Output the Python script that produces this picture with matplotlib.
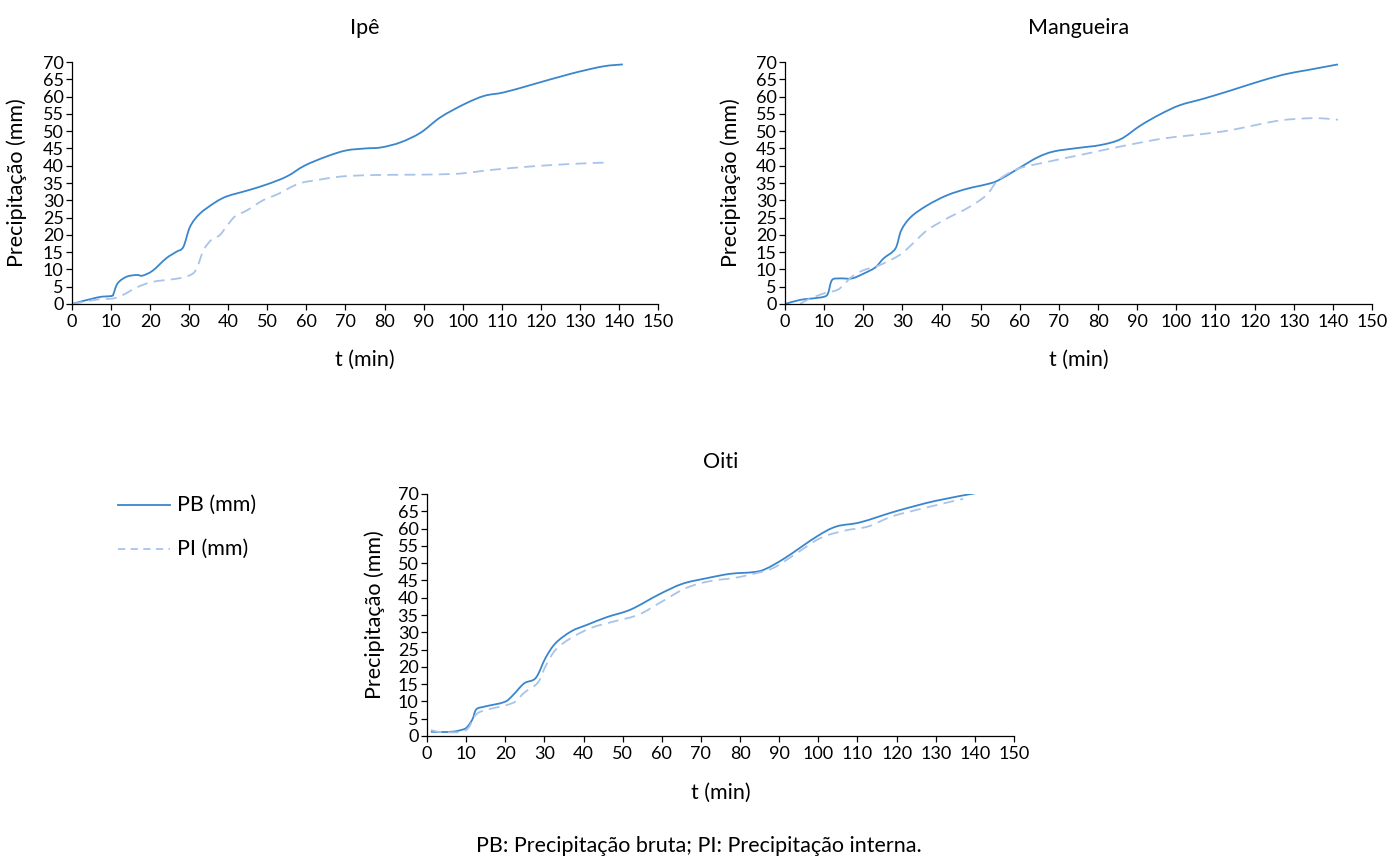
import matplotlib
matplotlib.use("Agg")
import matplotlib.pyplot as plt
from matplotlib.path import Path
from matplotlib.patches import PathPatch

plt.rcParams['font.family'] = ['Lato', 'DejaVu Sans']

# ---- data ----
ipe_pb_t = [0, 6.5, 10, 10.5, 11.7, 14, 16.6, 18, 20.6, 24.1, 26.7, 28.5, 30.2, 32.7, 36.8, 39.8, 44.8, 49.9, 55, 59.5, 65, 70.1, 75.2, 79.2, 84.2, 89.3, 94.3, 100.4, 105.5, 110.5, 117.6, 127.7, 135.8, 141]
ipe_pb = [0, 1.9, 2.3, 2.6, 6.0, 7.9, 8.4, 8.2, 9.6, 13.2, 15.1, 16.5, 22.3, 26.1, 29.5, 31.2, 32.8, 34.6, 36.9, 40.0, 42.6, 44.4, 45.0, 45.3, 46.8, 49.6, 54.0, 57.8, 60.2, 61.2, 63.4, 66.6, 68.7, 69.3]
ipe_pi_t = [0, 6.5, 10.5, 13, 16.6, 20.6, 26.7, 29.7, 31.7, 33.7, 35.8, 37.8, 39.8, 41.8, 44.8, 48.9, 52.9, 58, 63, 69.1, 77.2, 87.3, 97.4, 102.4, 107.5, 117.6, 127.7, 136.3]
ipe_pi = [0, 1.3, 1.6, 2.6, 4.8, 6.4, 7.3, 8.1, 9.8, 15.6, 18.7, 19.9, 22.8, 25.4, 27.1, 30.0, 31.9, 34.8, 35.9, 36.9, 37.3, 37.4, 37.6, 38.1, 38.8, 39.8, 40.5, 40.9]

man_pb_t = [0, 3.9, 7, 10, 11, 12, 14, 17.1, 20.1, 23.1, 25.2, 28.2, 29.7, 32.2, 36.3, 41.3, 46.4, 51.4, 54.4, 59.5, 64.5, 68.6, 74.6, 80.7, 85.8, 90.8, 95.9, 100.9, 107, 114, 120.1, 127.2, 133.2, 141.3]
man_pb = [0, 1.2, 1.6, 2.1, 3.1, 6.9, 7.4, 7.4, 8.8, 10.6, 13.2, 16.0, 21.3, 25.2, 28.5, 31.4, 33.3, 34.6, 35.7, 39.1, 42.4, 44.1, 45.1, 46.0, 47.7, 51.6, 54.9, 57.5, 59.4, 61.8, 64.0, 66.3, 67.6, 69.3]
man_pi_t = [3.9, 5.9, 10, 12, 14, 17.1, 20.1, 24.1, 29.2, 32.2, 36.3, 41.3, 46.4, 51.4, 54.4, 59.5, 66.6, 76.7, 86.8, 96.9, 107, 114, 122.1, 127.2, 133.2, 137.3, 141.3]
man_pi = [0, 1.3, 3.1, 3.6, 4.5, 7.9, 9.8, 11.2, 14.1, 17.0, 21.3, 24.7, 27.6, 31.4, 35.7, 39.1, 41.0, 43.4, 45.8, 47.9, 49.2, 50.3, 52.2, 53.2, 53.7, 53.7, 53.3]

oiti_pb_t = [1, 3.5, 6.6, 8.6, 10.1, 11.6, 12.6, 14.7, 19.7, 21.7, 24.8, 27.8, 30.3, 32.9, 36.9, 41, 46, 52.1, 59.2, 65.2, 71.3, 77.4, 83.4, 86.5, 91.5, 99.6, 104.6, 110.7, 119.8, 129.9, 140.5]
oiti_pb = [1.25, 1.15, 1.25, 1.7, 2.4, 4.8, 7.7, 8.5, 9.8, 11.5, 15.2, 16.8, 22.6, 26.9, 30.3, 32.2, 34.4, 36.6, 40.9, 44.0, 45.6, 46.9, 47.4, 48.3, 51.5, 57.7, 60.6, 61.8, 65.0, 68.0, 70.3]
oiti_pi_t = [1, 3.5, 8.6, 10.6, 12.6, 15.7, 20.2, 22.8, 24.8, 28.3, 30.3, 32.9, 36.9, 42, 48, 54.1, 60.2, 66.2, 72.3, 78.4, 83.4, 88.5, 94.5, 100.6, 106.7, 112.7, 118.8, 126.9, 137]
oiti_pi = [1.7, 1.15, 1.15, 2.4, 6.3, 7.7, 8.9, 10.1, 12.5, 15.4, 20.2, 25.0, 28.4, 31.3, 33.2, 35.1, 39.0, 42.8, 44.8, 45.7, 46.9, 48.6, 52.9, 57.3, 59.4, 60.6, 63.5, 65.9, 68.6]

titles = ["Ipê", "Mangueira", "Oiti"]
x_ticks = list(range(0, 151, 10))
y_ticks = list(range(0, 71, 5))
legend_labels = ["PB (mm)", "PI (mm)"]
footer = "PB: Precipitação bruta; PI: Precipitação interna."

PB_COLOR = "#3a86cc"
PI_COLOR = "#a9c3ea"

W, H = 1392, 856
fig = plt.figure(figsize=(W / 100, H / 100), dpi=100)


def add_ax(l, r, t, b):
    return fig.add_axes([l / W, 1 - b / H, (r - l) / W, (b - t) / H])


def smooth_path(xs, ys):
    """Excel-style smoothed line: cubic Bezier through every data point."""
    pts = list(zip(xs, ys))
    n = len(pts)
    verts = [pts[0]]
    codes = [Path.MOVETO]
    for i in range(n - 1):
        p0 = pts[i - 1] if i > 0 else pts[i]
        p1 = pts[i]
        p2 = pts[i + 1]
        p3 = pts[i + 2] if i + 2 < n else pts[i + 1]
        c1 = (p1[0] + (p2[0] - p0[0]) / 6, p1[1] + (p2[1] - p0[1]) / 6)
        c2 = (p2[0] - (p3[0] - p1[0]) / 6, p2[1] - (p3[1] - p1[1]) / 6)
        verts += [c1, c2, p2]
        codes += [Path.CURVE4] * 3
    return Path(verts, codes)


boxes = [(72, 658, 62, 304), (785, 1372, 62, 304), (427, 1014, 494, 736)]
ylabel_x = [17, 731, 375]
title_y = [28, 28, 462]
xlabel_y = [360, 360, 793]
series = [
    (ipe_pb_t, ipe_pb, ipe_pi_t, ipe_pi),
    (man_pb_t, man_pb, man_pi_t, man_pi),
    (oiti_pb_t, oiti_pb, oiti_pi_t, oiti_pi),
]

TICK_FS = 13
LAB_FS = 15.5
for k, (box, title, (pbt, pb, pit, pi)) in enumerate(zip(boxes, titles, series)):
    l, r, t, b = box
    ax = add_ax(*box)
    ax.add_patch(PathPatch(smooth_path(pbt, pb), fill=False, edgecolor=PB_COLOR, lw=1.3))
    ax.add_patch(PathPatch(smooth_path(pit, pi), fill=False, edgecolor=PI_COLOR, lw=1.3,
                           linestyle=(0, (6, 3.5))))
    ax.set_xlim(0, 150)
    ax.set_ylim(0, 70)
    ax.set_xticks(x_ticks)
    ax.set_yticks(y_ticks)
    ax.tick_params(labelsize=TICK_FS, length=4.5, width=0.9, colors='black')
    ax.tick_params(axis='y', pad=1.5)
    ax.tick_params(axis='x', pad=3)
    for s in ['top', 'right']:
        ax.spines[s].set_visible(False)
    for s in ['left', 'bottom']:
        ax.spines[s].set_linewidth(0.9)
    ax.set_xlabel("t (min)", fontsize=LAB_FS)
    ax.xaxis.label.set_va('center')
    ax.xaxis.set_label_coords(0.5, -(xlabel_y[k] - b) / (b - t))
    ax.set_ylabel("Precipitação (mm)", fontsize=LAB_FS)
    ax.yaxis.label.set_va('center')
    ax.yaxis.set_label_coords((ylabel_x[k] - l) / (r - l), 0.5)
    fig.text((l + r) / 2 / W, 1 - title_y[k] / H, title, fontsize=LAB_FS, ha='center', va='center')

# legend
leg_y = [505, 549]
fig.lines.append(plt.Line2D([118 / W, 170 / W], [1 - leg_y[0] / H] * 2, color=PB_COLOR, lw=1.3,
                            transform=fig.transFigure))
fig.lines.append(plt.Line2D([118 / W, 170 / W], [1 - leg_y[1] / H] * 2, color=PI_COLOR, lw=1.3,
                            dashes=(4, 3), transform=fig.transFigure))
for lab, yy in zip(legend_labels, leg_y):
    fig.text(177 / W, 1 - yy / H, lab, fontsize=LAB_FS, va='center', ha='left')

fig.text(699 / W, 1 - 846 / H, footer, fontsize=LAB_FS, ha='center', va='center')

fig.savefig("out.png", dpi=100)
